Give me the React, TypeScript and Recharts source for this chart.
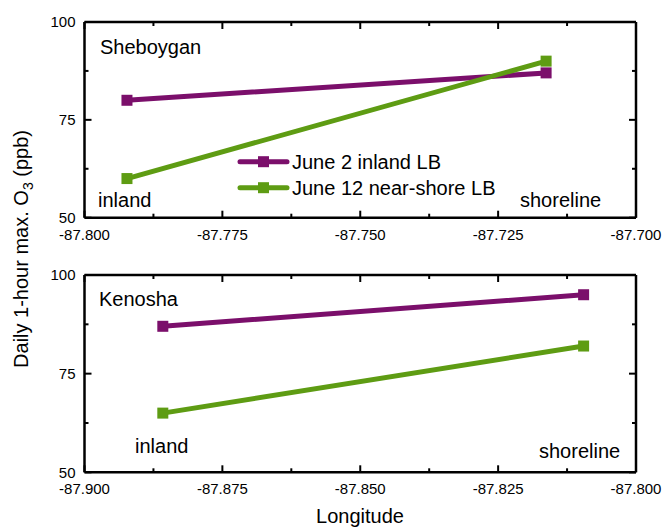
import React from 'react';
import { LineChart, Line, XAxis, YAxis, Legend } from 'recharts';

// ---- data ----
const seriesNames = ['June 2 inland LB', 'June 12 near-shore LB'];
const seriesColors = ['#7B0F6B', '#5E9C13'];

const sheboyganLon = [-87.7923, -87.7163];
const sheboyganJune2 = [80, 87];
const sheboyganJune12 = [60, 90];

const kenoshaLon = [-87.8858, -87.8095];
const kenoshaJune2 = [87, 95];
const kenoshaJune12 = [65, 82];

const sheboyganXTicks = [-87.8, -87.7875, -87.775, -87.7625, -87.75, -87.7375, -87.725, -87.7125, -87.7];
const kenoshaXTicks = [-87.9, -87.8875, -87.875, -87.8625, -87.85, -87.8375, -87.825, -87.8125, -87.8];
const yTicks = [50, 62.5, 75, 87.5, 100];

const sheboyganData = sheboyganLon.map((lon, i) => ({ lon, june2: sheboyganJune2[i], june12: sheboyganJune12[i] }));
const kenoshaData = kenoshaLon.map((lon, i) => ({ lon, june2: kenoshaJune2[i], june12: kenoshaJune12[i] }));

// ---- styles ----
const FONT = '"Liberation Sans", Arial, Helvetica, sans-serif';
const MAJOR = 7;
const MINOR = 4;
const AXIS = { stroke: '#000', strokeWidth: 2.5 };

const isMajorX = (v: number) => Math.abs(v / 0.025 - Math.round(v / 0.025)) < 1e-6;
const isMajorY = (v: number) => Math.abs(v / 25 - Math.round(v / 25)) < 1e-6;

function makeXTick(side: 'bottom' | 'top') {
  return (props: any) => {
    const { x, y, payload } = props;
    const v = Number(payload.value);
    const major = isMajorX(v);
    const len = major ? MAJOR : MINOR;
    const dir = side === 'bottom' ? -1 : 1;
    return (
      <g>
        <line x1={x} x2={x} y1={y} y2={y + dir * len} stroke="#000" strokeWidth={2} />
        {side === 'bottom' && major && (
          <text x={x} y={y + 22} textAnchor="middle" fontSize={15} fontFamily={FONT} fill="#000">
            {v.toFixed(3)}
          </text>
        )}
      </g>
    );
  };
}

function makeYTick(side: 'left' | 'right') {
  return (props: any) => {
    const { x, y, payload } = props;
    const v = Number(payload.value);
    const major = isMajorY(v);
    const len = major ? MAJOR : MINOR;
    const dir = side === 'left' ? 1 : -1;
    return (
      <g>
        <line x1={x} x2={x + dir * len} y1={y} y2={y} stroke="#000" strokeWidth={2} />
        {side === 'left' && major && (
          <text x={x - 9} y={y + 5.4} textAnchor="end" fontSize={15} fontFamily={FONT} fill="#000">
            {Math.round(v)}
          </text>
        )}
      </g>
    );
  };
}

const squareDot = (color: string) => (p: any) => (
  <rect key={`d-${p.index}`} x={p.cx - 5.5} y={p.cy - 5.5} width={11} height={11} fill={color} />
);

const LegendContent = (props: any) => {
  const payload = props.payload || [];
  const items = seriesNames.map((n, i) => {
    const found = payload.find((p: any) => p.value === n);
    return { value: n, color: found ? found.color : seriesColors[i] };
  });
  return (
    <svg width={300} height={60} style={{ overflow: 'visible', display: 'block' }}>
      {items.map((item: any, i: number) => {
        const cy = 16.7 + i * 26;
        return (
          <g key={i}>
            <line x1={10} x2={57} y1={cy} y2={cy} stroke={item.color} strokeWidth={5} strokeLinecap="round" />
            <rect x={28} y={cy - 5.5} width={11} height={11} fill={item.color} />
            <text x={62} y={cy + 7.3} fontSize={20} fontFamily={FONT} fill="#000">
              {item.value}
            </text>
          </g>
        );
      })}
    </svg>
  );
};

interface PanelProps {
  data: any[];
  xTicks: number[];
  top: number;
  height: number;
  marginTop: number;
  xAxisHeight: number;
  showLegend?: boolean;
}

function Panel({ data, xTicks, top, height, marginTop, xAxisHeight, showLegend }: PanelProps) {
  const domain: [number, number] = [xTicks[0], xTicks[xTicks.length - 1]];
  return (
    <div style={{ position: 'absolute', left: 0, top, width: 665, height }}>
      <LineChart width={665} height={height} data={data} margin={{ top: marginTop - 1, right: 28, bottom: 0, left: 0 }}>
        <XAxis
          dataKey="lon"
          type="number"
          domain={domain}
          ticks={xTicks}
          interval={0}
          tickSize={0}
          tickMargin={0}
          tickLine={false}
          tick={makeXTick('bottom')}
          axisLine={AXIS}
          height={xAxisHeight}
        />
        <XAxis
          xAxisId="top"
          orientation="top"
          dataKey="lon"
          type="number"
          domain={domain}
          ticks={xTicks}
          interval={0}
          tickSize={0}
          tickMargin={0}
          tickLine={false}
          tick={makeXTick('top')}
          axisLine={AXIS}
          height={1}
          allowDataOverflow
        />
        <YAxis
          type="number"
          domain={[50, 100]}
          ticks={yTicks}
          interval={0}
          tickSize={0}
          tickMargin={0}
          tickLine={false}
          tick={makeYTick('left')}
          axisLine={AXIS}
          width={84.5}
        />
        <YAxis
          yAxisId="right"
          orientation="right"
          type="number"
          domain={[50, 100]}
          ticks={yTicks}
          interval={0}
          tickSize={0}
          tickMargin={0}
          tickLine={false}
          tick={makeYTick('right')}
          axisLine={AXIS}
          width={1}
          allowDataOverflow
        />
        <Line
          dataKey="june2"
          name={seriesNames[0]}
          stroke={seriesColors[0]}
          strokeWidth={5}
          strokeLinecap="round"
          dot={squareDot(seriesColors[0])}
          activeDot={false}
          isAnimationActive={false}
        />
        <Line
          dataKey="june12"
          name={seriesNames[1]}
          stroke={seriesColors[1]}
          strokeWidth={5}
          strokeLinecap="round"
          dot={squareDot(seriesColors[1])}
          activeDot={false}
          isAnimationActive={false}
        />
        {showLegend && (
          <Legend
            layout="vertical"
            align="center"
            verticalAlign="middle"
            content={LegendContent}
            wrapperStyle={{ position: 'absolute', left: 230, top: 145, width: 300, height: 60 }}
          />
        )}
      </LineChart>
    </div>
  );
}

export default function App() {
  const t = { fontFamily: FONT, fontSize: 20, fill: '#000' };
  return (
    <div style={{ position: 'absolute', left: 0, top: 0, width: 665, height: 528, background: '#fff', overflow: 'hidden' }}>
      <Panel data={sheboyganData} xTicks={sheboyganXTicks} top={0} height={250} marginTop={22} xAxisHeight={32.3} showLegend />
      <Panel data={kenoshaData} xTicks={kenoshaXTicks} top={250} height={278} marginTop={25} xAxisHeight={55.7} />
      <svg width={665} height={528} style={{ position: 'absolute', left: 0, top: 0, pointerEvents: 'none' }}>
        <text x={100} y={54} {...t}>Sheboygan</text>
        <text x={98} y={207} {...t}>inland</text>
        <text x={520} y={207} {...t}>shoreline</text>
        <text x={99} y={306} {...t}>Kenosha</text>
        <text x={135} y={453} {...t}>inland</text>
        <text x={539} y={458} {...t}>shoreline</text>
        <text x={360} y={523} textAnchor="middle" {...t}>Longitude</text>
        <text transform="translate(28,249) rotate(-90)" textAnchor="middle" {...t}>
          Daily 1-hour max. O<tspan fontSize={14} dy={5}>3</tspan><tspan dy={-5}> (ppb)</tspan>
        </text>
      </svg>
    </div>
  );
}
